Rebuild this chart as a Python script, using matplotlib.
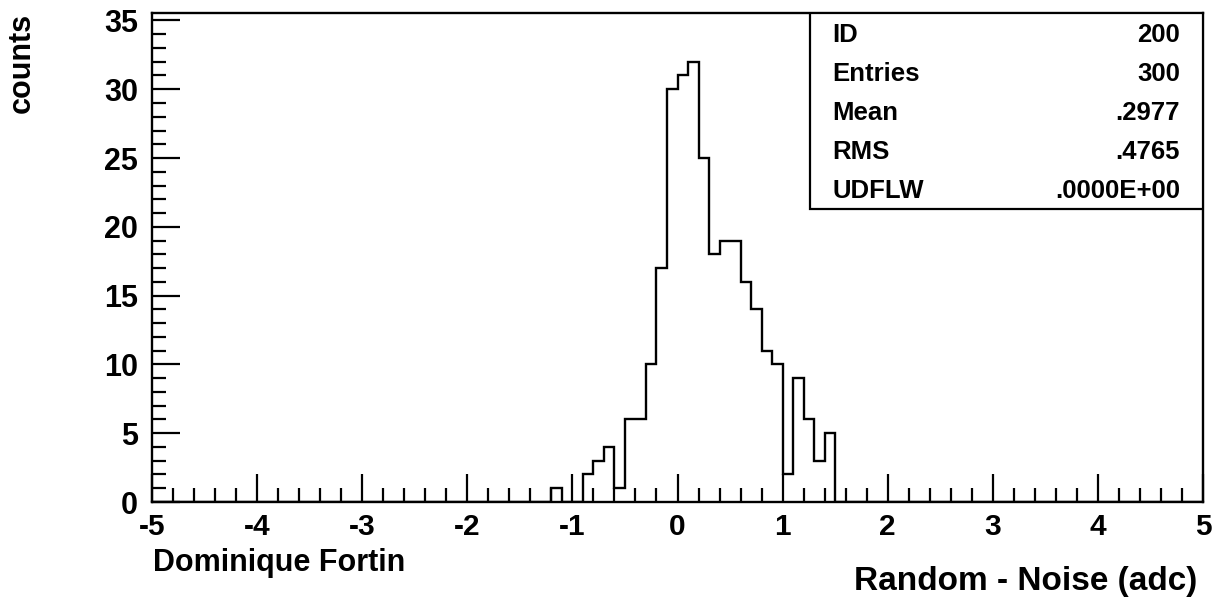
import numpy as np
import matplotlib
matplotlib.use("Agg")
import matplotlib.pyplot as plt
from matplotlib.patches import Rectangle
from matplotlib.ticker import MultipleLocator

plt.rcParams['font.family'] = ['Liberation Sans', 'DejaVu Sans']
plt.rcParams['font.weight'] = 'bold'
plt.rcParams['axes.unicode_minus'] = False

# Histogram: 100 bins of width 0.1 from -5 to 5
x_min, x_max, n_bins = -5.0, 5.0, 100
first_bin_lo = -1.2
counts_nonzero = [1, 0, 0, 2, 3, 4, 1, 6, 6, 10, 17, 30, 31, 32, 25,
                  18, 19, 19, 16, 14, 11, 10, 2, 9, 6, 3, 5]

stat_labels = ["ID", "Entries", "Mean", "RMS", "UDFLW"]
stat_values = ["200", "300", ".2977", ".4765", ".0000E+00"]

x_label = "Random - Noise (adc)"
y_label = "counts"
author = "Dominique Fortin"

edges = np.linspace(x_min, x_max, n_bins + 1)
counts = np.zeros(n_bins)
start = int(round((first_bin_lo - x_min) / 0.1))
counts[start:start + len(counts_nonzero)] = counts_nonzero

W, H = 1214, 600
fig = plt.figure(figsize=(W/100, H/100), dpi=100)
ax_l, ax_r, ax_t, ax_b = 152, 1203, 13, 502
ax = fig.add_axes([ax_l/W, (H-ax_b)/H, (ax_r-ax_l)/W, (ax_b-ax_t)/H])
ax.stairs(counts, edges, color='black', linewidth=1.7, baseline=0)
ax.set_xlim(x_min, x_max)
ax.set_ylim(0, 35.54)

for s in ax.spines.values():
    s.set_linewidth(1.7)

ax.xaxis.set_major_locator(MultipleLocator(1))
ax.xaxis.set_minor_locator(MultipleLocator(0.2))
ax.yaxis.set_major_locator(MultipleLocator(5))
ax.yaxis.set_minor_locator(MultipleLocator(1))
ax.tick_params(which='both', direction='in', top=False, right=False, width=1.6)
ax.tick_params(which='major', length=20)
ax.tick_params(which='minor', length=10)
ax.tick_params(axis='x', which='major', pad=8, labelsize=21.5)
ax.tick_params(axis='y', which='major', pad=10, labelsize=22)
for lab in ax.get_xticklabels() + ax.get_yticklabels():
    lab.set_fontweight('bold')

# stats box (pixel positions converted to axes fractions)
def fx(px):
    return (px - ax_l) / (ax_r - ax_l)

def fy(py):
    return (ax_b - py) / (ax_b - ax_t)

x0, y0 = fx(810), fy(209)
ax.add_patch(Rectangle((x0, y0), 1 - x0, 1 - y0, transform=ax.transAxes,
                       fill=True, facecolor='white', edgecolor='black',
                       linewidth=1.6, zorder=5))
baselines = [41.7, 80.8, 119.9, 158.9, 198.0]
for lab, val, ypx in zip(stat_labels, stat_values, baselines):
    ax.text(fx(832), fy(ypx), lab, transform=ax.transAxes, ha='left', va='baseline',
            fontsize=18.5, fontweight='bold', zorder=6)
    ax.text(fx(1180), fy(ypx), val, transform=ax.transAxes, ha='right', va='baseline',
            fontsize=18.5, fontweight='bold', zorder=6)

fig.text(1197/W, 1 - 590/H, x_label, ha='right', va='baseline', fontsize=24, fontweight='bold')
fig.text(22/W, 1 - 13/H, y_label, ha='center', va='top', rotation=90, fontsize=22, fontweight='bold')
fig.text(153/W, 1 - 571/H, author, ha='left', va='baseline', fontsize=22, fontweight='bold')

fig.savefig("out.png", dpi=100)
